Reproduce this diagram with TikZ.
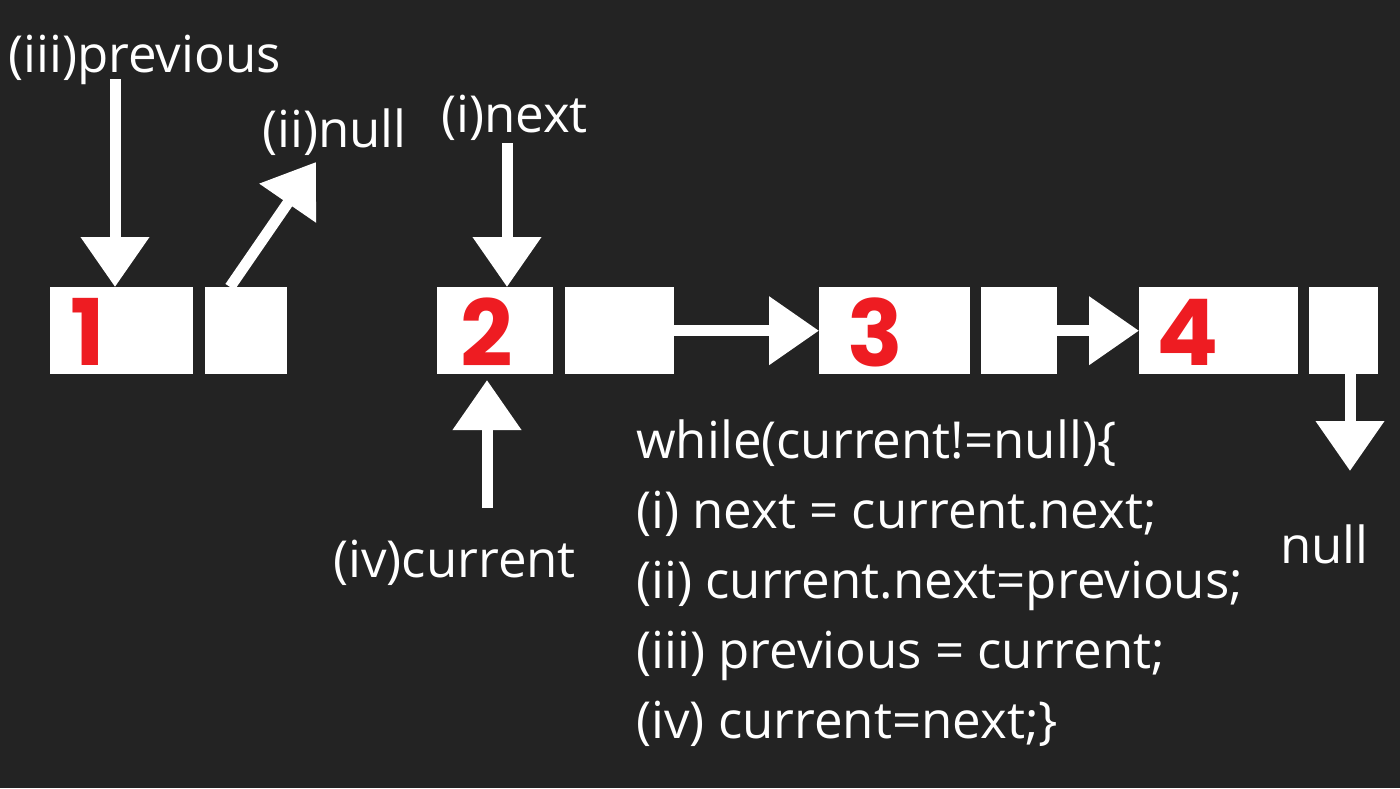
\documentclass[tikz,border=0pt]{standalone}
\usepackage{fontspec}
\setmainfont{Open Sans}
\newfontfamily\numfont{Poppins}
\usetikzlibrary{arrows.meta}
\definecolor{bg}{HTML}{232323}
\definecolor{numred}{HTML}{EE1C22}
\tikzset{
  cell/.style={rectangle, fill=white, draw=none, inner sep=0pt, anchor=north west},
  txt/.style={text=white, inner sep=0pt, anchor=base west, font=\fontsize{51}{60}\selectfont},
  num/.style={text=numred, inner sep=0pt, anchor=center, font=\numfont\bfseries\fontsize{92}{92}\selectfont},
  arr/.style={draw=white, line width=11pt, -{Triangle[width=66pt,length=50pt]}},
}
\begin{document}
\begin{tikzpicture}[x=1pt,y=-1pt]
\useasboundingbox (0,0) rectangle (1400,788);
\fill[bg] (0,0) rectangle (1400,788);
% boxes
\node[cell, minimum width=143pt, minimum height=87pt] (b1) at (50,287) {};
\node[cell, minimum width=82pt, minimum height=87pt] (b1n) at (205,287) {};
\node[cell, minimum width=116pt, minimum height=87pt] (b2) at (437,287) {};
\node[cell, minimum width=109pt, minimum height=87pt] (b2n) at (565,287) {};
\node[cell, minimum width=151pt, minimum height=87pt] (b3) at (819,287) {};
\node[cell, minimum width=76pt, minimum height=87pt] (b3n) at (981,287) {};
\node[cell, minimum width=159pt, minimum height=87pt] (b4) at (1139,287) {};
\node[cell, minimum width=69pt, minimum height=87pt] (b4n) at (1309,287) {};
% numbers
\node[num] (n1) at (88,332) {1};
\node[num] (n2) at (487,332) {2};
\node[num] (n3) at (875,332) {3};
\node[num] (n4) at (1188,332) {4};
% labels
\node[txt] (lprev) at (8,72) {(iii)previous};
\node[txt] (lnull) at (262,147) {(ii)null};
\node[txt] (lnext) at (441,132) {(i)next};
\node[txt] (lcur) at (333,577) {(iv)current};
\node[txt] (lnull2) at (1280,563) {null};
% code
\node[txt] (c1) at (636,458) {while(current!=null)\{};
\node[txt] (c2) at (636,528) {(i) next = current.next;};
\node[txt] (c3) at (636,598) {(ii) current.next=previous;};
\node[txt] (c4) at (636,668) {(iii) previous = current;};
\node[txt] (c5) at (636,738) {(iv) current=next;\}};
% free ends
\coordinate (pstart) at (115,79);
\coordinate (nstart) at (507,143);
\coordinate (nulltip) at (316,162);
\coordinate (nullstart) at (230,287);
\coordinate (cstart) at (487,508);
\coordinate (ctip) at (487,380);
\coordinate (dstart) at (1350,374);
\coordinate (dtip) at (1350,471);
% arrows
\draw[arr] (pstart) -- (pstart |- b1.north);
\draw[arr] (nstart) -- (nstart |- b2.north);
\draw[arr] (nullstart) -- (nulltip);
\draw[arr] (cstart) -- (ctip);
\draw[arr] (b2n.east) -- (b3.west);
\draw[arr] (b3n.east) -- (b4.west);
\draw[arr] (dstart) -- (dtip);
\end{tikzpicture}
\end{document}
